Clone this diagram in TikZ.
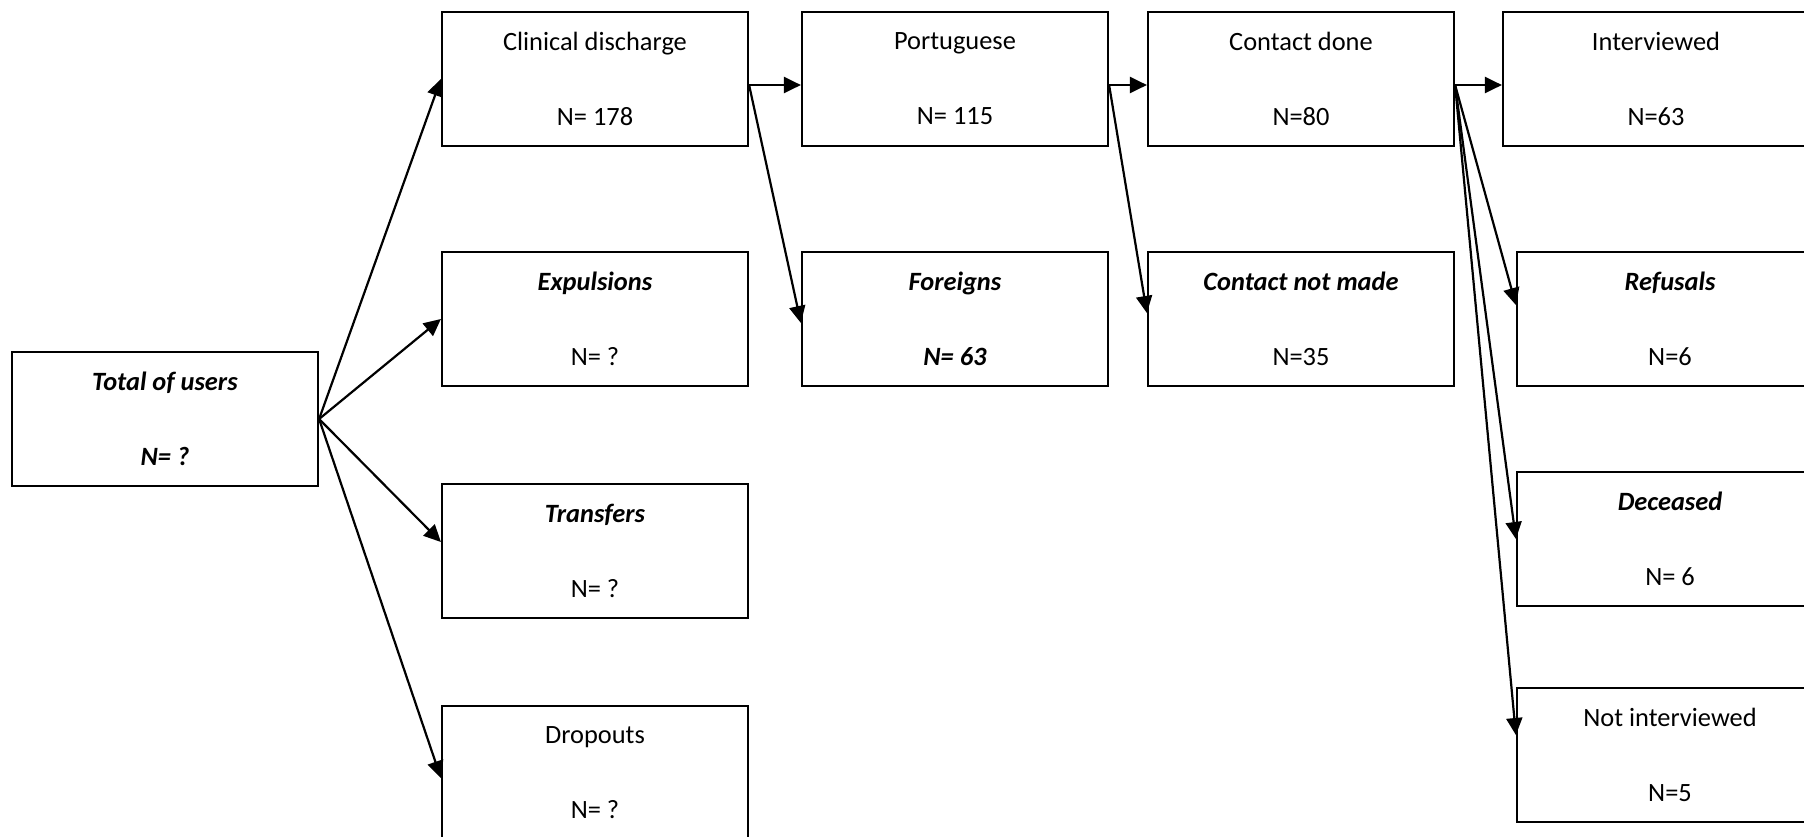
\documentclass[tikz,border=0pt]{standalone}
\usepackage{fontspec}
\setmainfont{Carlito}
\usetikzlibrary{arrows.meta}

\newcommand{\bfit}[1]{\textbf{\textit{#1}}}

\begin{document}
\begin{tikzpicture}[x = 0.5pt, y = -0.5pt,
    box/.style = {draw, line width = 1.1pt, minimum width = 153pt,
      minimum height = 67pt, align = center,
      font = \fontsize{13.2pt}{37.5pt}\selectfont},
    arr/.style = {->, line width = 1.1pt},
    >={Triangle[length = 8.5pt, width = 8pt]}]
      \clip (0,0) rectangle (1804,836);
      \foreach \name/\x/\y/\head/\count in {
          total/165/419/\bfit{Total of users}/\bfit{N= ?},
          clin/595/79/Clinical discharge/N= 178,
          expu/595/319/\bfit{Expulsions}/N= ?,
          tran/595/551/\bfit{Transfers}/N= ?,
          drop/595/773/Dropouts/N= ?,
          port/955/79/Portuguese/N= 115,
          fore/955/319/\bfit{Foreigns}/\bfit{N= 63},
          cont/1301/79/Contact done/N=80,
          notm/1301/319/\bfit{Contact not made}/N=35,
          intv/1656/79/Interviewed/N=63,
          refu/1670/319/\bfit{Refusals}/N=6,
          dece/1670/539/\bfit{Deceased}/N= 6,
          noti/1670/755/Not interviewed/N=5}{
        \node[box] (\name) at (\x,\y) {\head\\\count};
      }
      \foreach \to/\dy in {clin/0, expu/0, tran/4.5, drop/-2.5}
        \draw[arr] (total.east) -- ([yshift = \dy pt]\to.west);
      \draw[arr] ([yshift = -3pt]clin.east) -- ([yshift = -3pt]port.west);
      \draw[arr] ([yshift = -3pt]clin.east) -- ([yshift = -2pt]fore.west);
      \draw[arr] ([yshift = -3pt]port.east) -- ([yshift = -3pt]cont.west);
      \draw[arr] ([yshift = -3pt]port.east) -- ([yshift = 3pt]notm.west);
      \foreach \to/\dy in {intv/-3, refu/7, dece/0, noti/10}
        \draw[arr] ([yshift = -3pt]cont.east) -- ([yshift = \dy pt]\to.west);
    \end{tikzpicture}
\end{document}
